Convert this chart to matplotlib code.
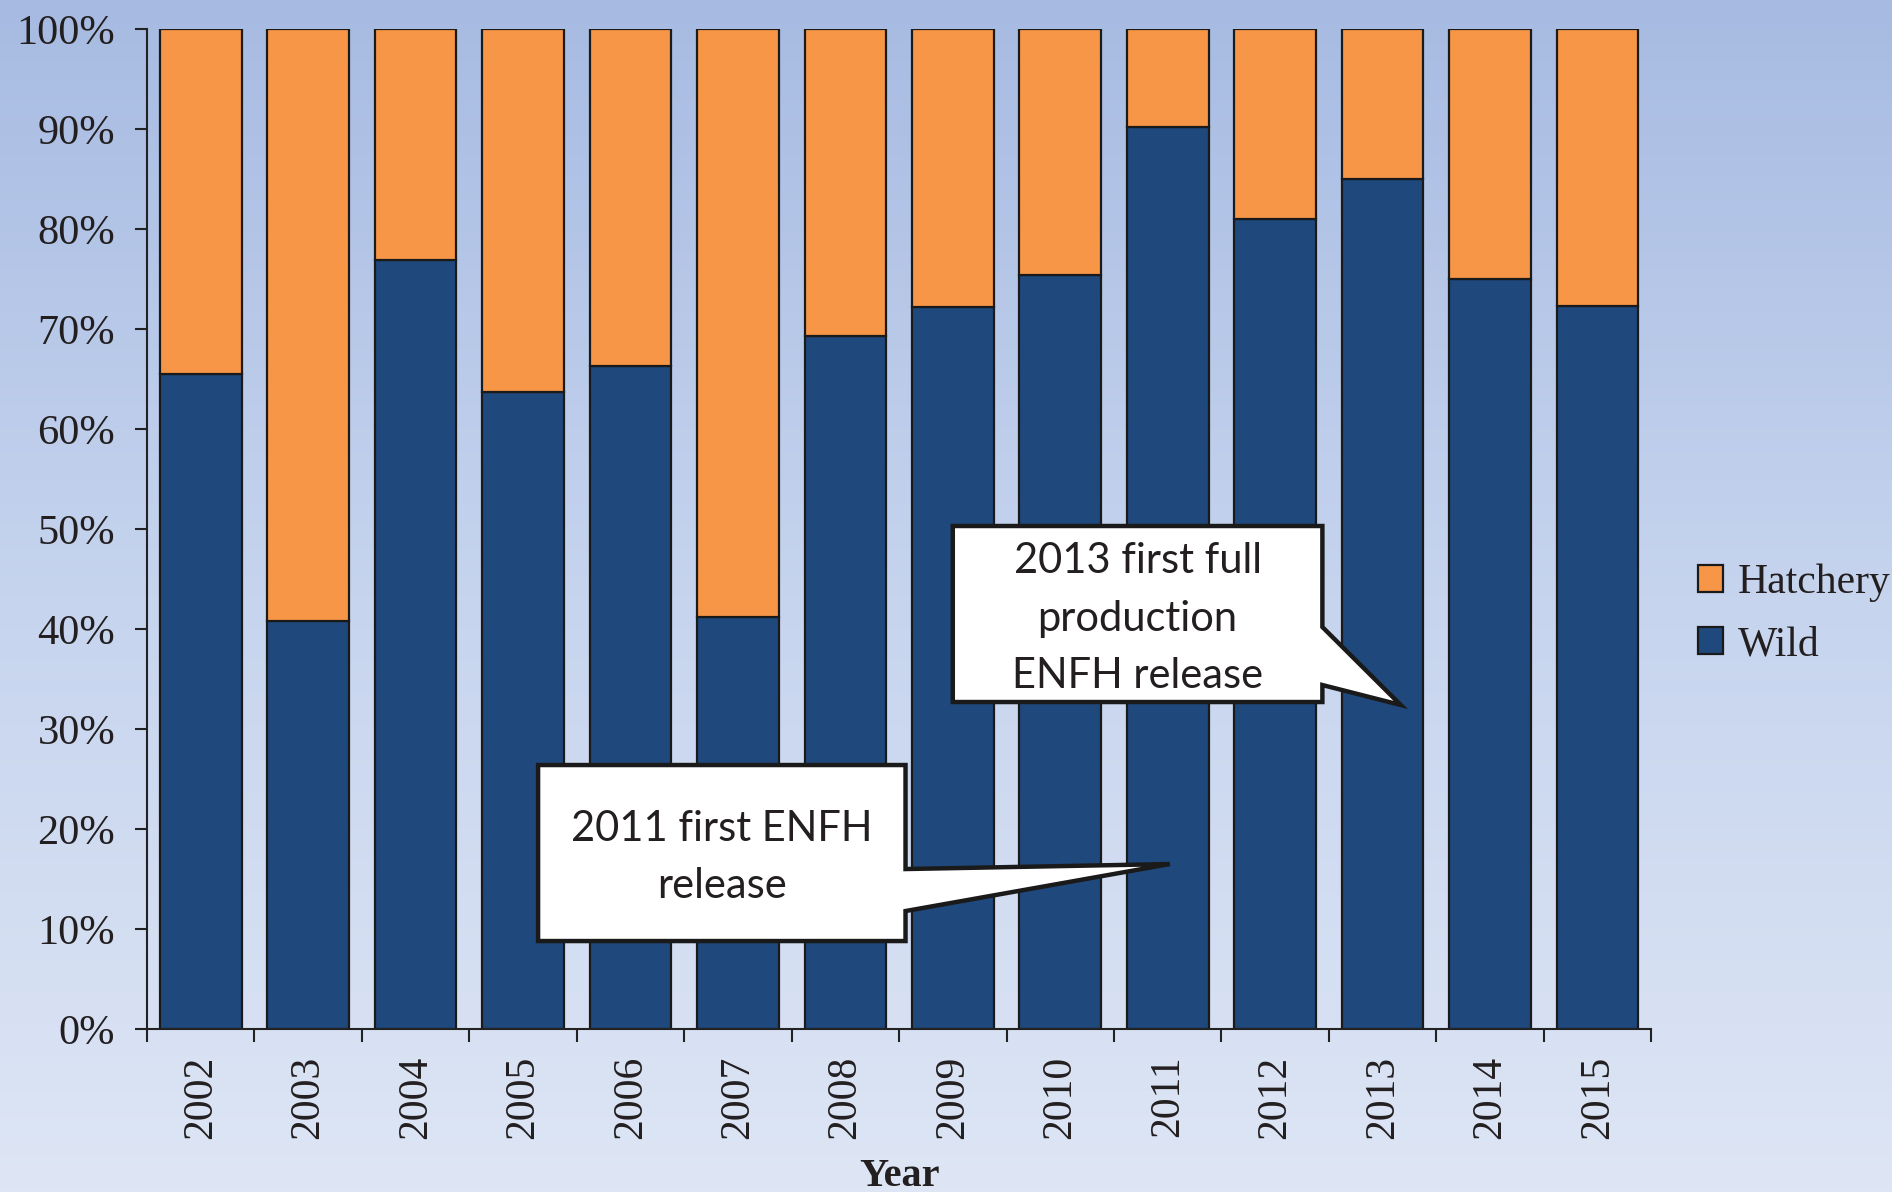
import numpy as np
import matplotlib.pyplot as plt
from matplotlib.patches import Polygon, Patch
from matplotlib.colors import LinearSegmentedColormap

# -------------------------
# Data
# -------------------------
years = ["2002", "2003", "2004", "2005", "2006", "2007", "2008",
         "2009", "2010", "2011", "2012", "2013", "2014", "2015"]
wild = [65.5, 40.8, 76.9, 63.7, 66.3, 41.2, 69.3,
        72.2, 75.4, 90.2, 81.0, 85.0, 75.0, 72.3]
hatchery = [100 - w for w in wild]

ORANGE = "#F79646"
BLUE = "#1F497D"

plt.rcParams["font.family"] = ["Liberation Serif", "DejaVu Serif"]

fig = plt.figure(figsize=(18.92, 11.92), dpi=100)

# background gradient
bg = fig.add_axes([0, 0, 1, 1], zorder=-10)
cmap = LinearSegmentedColormap.from_list("bg", ["#A7BBE2", "#C6D4EE", "#DEE6F5"])
grad = np.linspace(0, 1, 256).reshape(-1, 1)
bg.imshow(grad, aspect="auto", cmap=cmap, extent=[0, 1, 0, 1])
bg.axis("off")

ax = fig.add_axes([0.0777, 0.1367, 0.7950, 0.8390])
ax.patch.set_alpha(0)

x = np.arange(len(years))
ax.bar(x, wild, width=0.76, color=BLUE, edgecolor="#1a1a1a", linewidth=1.6, label="Wild", zorder=2)
ax.bar(x, hatchery, width=0.76, bottom=wild, color=ORANGE, edgecolor="#1a1a1a", linewidth=1.6,
       label="Hatchery", zorder=2)

ax.set_xlim(-0.5, len(years) - 0.5)
ax.set_ylim(0, 100)

for s in ["top", "right"]:
    ax.spines[s].set_visible(False)
for s in ["left", "bottom"]:
    ax.spines[s].set_linewidth(1.5)
    ax.spines[s].set_color("#222222")

ax.set_yticks(np.arange(0, 101, 10))
ax.set_yticklabels([f"{v}%" for v in range(0, 101, 10)], fontsize=30.5, color="#231f20")
ax.tick_params(axis="y", direction="out", length=9, width=1.5, pad=14, color="#222222")

ax.set_xticks(np.arange(-0.5, len(years), 1.0))
ax.set_xticklabels([])
ax.tick_params(axis="x", which="major", direction="out", length=9, width=1.5, color="#222222")
ax.set_xticks(x, minor=True)
ax.set_xticklabels(years, minor=True, rotation=90, fontsize=30, color="#231f20")
ax.tick_params(axis="x", which="minor", length=0, pad=19)

ax.set_xlabel("Year", fontsize=29, fontweight="bold", color="#231f20", labelpad=14)

# legend
handles = [Patch(facecolor=ORANGE, edgecolor="#1a1a1a", linewidth=1.6, label="Hatchery"),
           Patch(facecolor=BLUE, edgecolor="#1a1a1a", linewidth=1.6, label="Wild")]
fig.legend(handles=handles, loc="center left", bbox_to_anchor=(0.893, 0.485), frameon=False,
           fontsize=30, handlelength=0.6, handleheight=0.6, handletextpad=0.35, labelspacing=0.56,
           labelcolor="#231f20", borderaxespad=0, borderpad=0.2)


# -------------------------
# Callouts
# -------------------------
def callout(x0, x1, y0, y1, base_top, base_bot, tip, text):
    pts = [(x0, y1), (x1, y1), (x1, base_top), tip, (x1, base_bot), (x1, y0), (x0, y0)]
    poly = Polygon(pts, closed=True, facecolor="white", edgecolor="#1a1a1a", linewidth=3.2,
                   joinstyle="miter", zorder=5, clip_on=False)
    ax.add_patch(poly)
    ax.text((x0 + x1) / 2, (y0 + y1) / 2 - 0.45, text, ha="center", va="center", fontsize=30,
            family=["Lato", "DejaVu Sans"], color="#231f20", linespacing=1.63, zorder=6)


callout(3.14, 6.56, 8.8, 26.4, 16.0, 11.8, (9.02, 16.5), "2011 first ENFH\nrelease")
callout(7.0, 10.44, 32.7, 50.3, 40.2, 34.4, (11.17, 32.4), "2013 first full\nproduction\nENFH release")

fig.savefig("out.png", dpi=100)
